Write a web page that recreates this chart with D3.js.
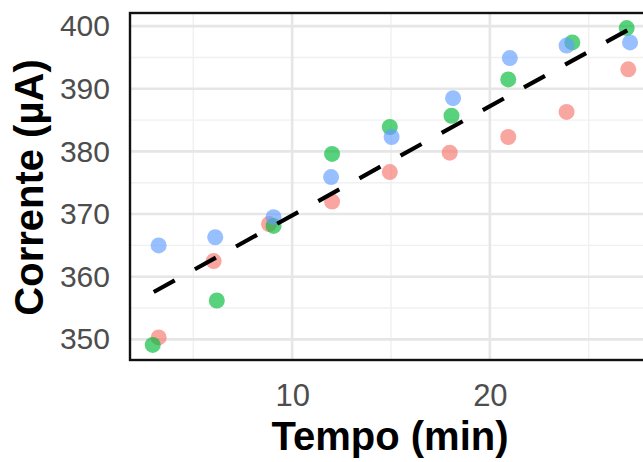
<!DOCTYPE html>
<html>
<head>
<meta charset="utf-8">
<script src="https://cdn.jsdelivr.net/npm/d3@7"></script>
<style>
  body { margin: 0; background: #fff; }
  text { font-family: "Liberation Sans", Arial, sans-serif; }
</style>
</head>
<body>
<div id="chart-area"></div>
<script>
/* Corrente vs tempo: jittered points + dashed lm fit */

// sampling times (min)
var times = [3, 6, 9, 12, 15, 18, 21, 24, 27];

// three replicate series (µA)
var redValues   = [350.3, 362.5, 368.4, 372.0, 376.7, 379.8, 382.3, 386.3, 393.1];
var greenValues = [349.1, 356.2, 368.1, 379.6, 383.9, 385.7, 391.5, 397.4, 399.7];
var blueValues  = [365.0, 366.3, 369.5, 375.9, 382.3, 388.5, 394.9, 396.9, 397.4];

// jittered x positions of the points
var redX   = [3.25, 6.03, 8.83, 12.02, 14.94, 17.97, 20.93, 23.88, 27.0];
var greenX = [2.95, 6.19, 9.06, 12.02, 14.94, 18.06, 20.93, 24.17, 26.92];
var blueX  = [3.25, 6.11, 9.06, 11.97, 15.03, 18.14, 21.01, 23.88, 27.09];

var xTicks = [10, 20];
var yTicks = [350, 360, 370, 380, 390, 400];

var series = [
    { name: "A", color: "#F8766D", x: redX, y: redValues },
    { name: "B", color: "#00BA38", x: greenX, y: greenValues },
    { name: "C", color: "#619CFF", x: blueX, y: blueValues }
];

var W = 643, H = 462;
var margin = { left: 130, right: -9, top: 13, bottom: 102 };
var width = W - margin.left - margin.right;
var height = H - margin.top - margin.bottom;

var svg = d3.select("#chart-area")
    .append("svg")
    .attr("width", W)
    .attr("height", H);

var g = svg.append("g")
    .attr("transform", "translate(" + margin.left + "," + margin.top + ")");

var x = d3.scaleLinear().domain([1.8, 28.2]).range([0, width]);
var y = d3.scaleLinear().domain([346.7, 402.1]).range([height, 0]);

// grid: minor then major
var xMinor = [5, 15, 25];
var yMinor = [355, 365, 375, 385, 395];

g.selectAll(".xminor").data(xMinor).enter().append("line")
    .attr("x1", d => x(d)).attr("x2", d => x(d))
    .attr("y1", 0).attr("y2", height)
    .attr("stroke", "#F0F0F0").attr("stroke-width", 1.4);
g.selectAll(".yminor").data(yMinor).enter().append("line")
    .attr("y1", d => y(d)).attr("y2", d => y(d))
    .attr("x1", 0).attr("x2", width)
    .attr("stroke", "#F0F0F0").attr("stroke-width", 1.4);
g.selectAll(".xmajor").data(xTicks).enter().append("line")
    .attr("x1", d => x(d)).attr("x2", d => x(d))
    .attr("y1", 0).attr("y2", height)
    .attr("stroke", "#E6E6E6").attr("stroke-width", 2.6);
g.selectAll(".ymajor").data(yTicks).enter().append("line")
    .attr("y1", d => y(d)).attr("y2", d => y(d))
    .attr("x1", 0).attr("x2", width)
    .attr("stroke", "#E6E6E6").attr("stroke-width", 2.6);

// points
series.forEach(function(s) {
    g.selectAll(".pt-" + s.name)
        .data(s.y)
        .enter()
        .append("circle")
        .attr("cx", function(d, i) { return x(s.x[i]); })
        .attr("cy", function(d) { return y(d); })
        .attr("r", 8)
        .attr("fill", s.color)
        .attr("fill-opacity", 0.65);
});

// linear fit over all replicates
var all = [];
series.forEach(function(s) {
    s.y.forEach(function(v, i) { all.push([times[i], v]); });
});
var mx = d3.mean(all, d => d[0]);
var my = d3.mean(all, d => d[1]);
var slope = d3.sum(all, d => (d[0] - mx) * (d[1] - my)) /
    d3.sum(all, d => (d[0] - mx) * (d[0] - mx));
var icpt = my - slope * mx;
var xr = d3.extent(times);

g.append("line")
    .attr("x1", x(xr[0])).attr("y1", y(icpt + slope * xr[0]))
    .attr("x2", x(xr[1])).attr("y2", y(icpt + slope * xr[1]))
    .attr("stroke", "#000")
    .attr("stroke-width", 4.2)
    .attr("stroke-dasharray", "24,23");

// panel border
g.append("rect")
    .attr("width", width).attr("height", height)
    .attr("fill", "none")
    .attr("stroke", "#111")
    .attr("stroke-width", 2.4);

// axes
var xAxis = g.append("g")
    .attr("transform", "translate(0," + height + ")")
    .call(d3.axisBottom(x).tickValues(xTicks).tickSize(0).tickPadding(24));
xAxis.select(".domain").remove();
xAxis.selectAll("text")
    .style("font-family", "Liberation Sans, Arial, sans-serif")
    .attr("font-size", 31).attr("fill", "#4D4D4D");

var yAxis = g.append("g")
    .call(d3.axisLeft(y).tickValues(yTicks).tickSize(0).tickPadding(20));
yAxis.select(".domain").remove();
yAxis.selectAll("text")
    .style("font-family", "Liberation Sans, Arial, sans-serif")
    .attr("font-size", 30).attr("fill", "#4D4D4D");

// titles
svg.append("text")
    .attr("x", 390)
    .attr("y", 450)
    .attr("text-anchor", "middle")
    .attr("font-size", 40)
    .attr("font-weight", "bold")
    .text("Tempo (min)");

svg.append("text")
    .attr("transform", "translate(43," + (margin.top + height / 2 + 1) + ") rotate(-90)")
    .attr("text-anchor", "middle")
    .attr("font-size", 40)
    .attr("font-weight", "bold")
    .text("Corrente (µA)");
</script>
</body>
</html>
